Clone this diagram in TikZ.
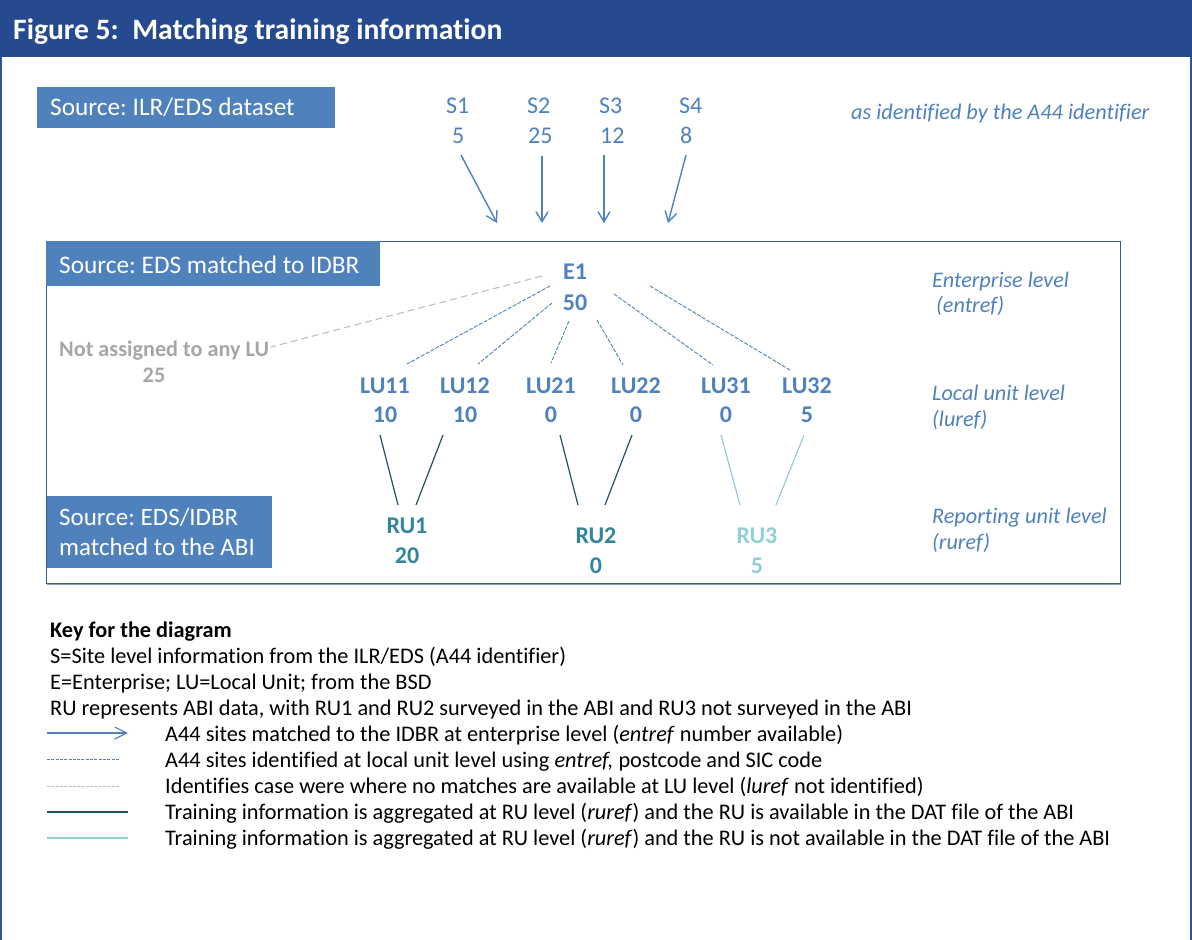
\documentclass[tikz,border=0pt]{standalone}
\usepackage{fontspec}
\setmainfont{Carlito}[Ligatures=NoCommon]
\usetikzlibrary{arrows.meta}
\frenchspacing
\definecolor{titleblue}{RGB}{37,74,143}
\definecolor{boxblue}{RGB}{79,129,189}
\definecolor{txtblue}{RGB}{79,129,189}
\definecolor{greytxt}{RGB}{166,166,166}
\definecolor{greyline}{RGB}{190,190,190}
\definecolor{tealtxt}{RGB}{49,133,156}
\definecolor{lighttxt}{RGB}{146,205,220}
\definecolor{darkteal}{RGB}{30,84,98}
\definecolor{frameblue}{RGB}{56,93,138}
\definecolor{outerblue}{RGB}{47,82,160}
\tikzset{
  fs/.style={font=\fontsize{#1}{#1}\selectfont},
  fsb/.style={font=\fontsize{#1}{#1}\selectfont\bfseries},
  fsi/.style={font=\fontsize{#1}{#1}\selectfont\itshape},
  txt/.style={inner sep=0pt, anchor=base west},
  ctxt/.style={inner sep=0pt, anchor=base},
  srcbox/.style={fill=boxblue, inner sep=0pt, anchor=north west},
  sarrow/.style={draw=txtblue, line width=1.4pt, -{Straight Barb[length=10pt,width=12pt]}},
  bluedash/.style={draw=txtblue, line width=0.9pt, dash pattern=on 4pt off 1.5pt},
  greydash/.style={draw=greyline, line width=1.1pt, dash pattern=on 7pt off 4pt},
  darkline/.style={draw=darkteal, line width=1.2pt},
  lightline/.style={draw=lighttxt, line width=1.2pt},
}
\begin{document}
\begin{tikzpicture}[x=1pt,y=-1pt]
\useasboundingbox (0,0) rectangle (1192,940);
% outer frame and title bar
\draw[outerblue, line width=2pt] (1,0) -- (1,940);
\draw[outerblue, line width=2pt] (1190.5,0) -- (1190.5,940);
\fill[titleblue] (0,0) rectangle (1192,57);
\node[txt, fsb=29.6, text=white] (title) at (13,39.5) {Figure 5:\ \ Matching training information};

% source 1
\node[srcbox, minimum width=298pt, minimum height=41pt] (box1) at (37,87) {};
\node[txt, fs=25.3, text=white] (box1t) at (50,115) {Source: ILR/EDS dataset};

% sites
\foreach \n/\lx/\nx/\v in {1/446/452/5, 2/527/528/25, 3/599/600/12, 4/679/680/8}{
  \node[txt, fs=24, text=txtblue] (s\n) at (\lx,113) {S\n};
  \node[txt, fs=24, text=txtblue] (n\n) at (\nx,143) {\v};
}
\node[txt, fsi=22.3, text=txtblue] (asid) at (851,119) {as identified by the A44 identifier};
\coordinate (a1s) at (461,155); \coordinate (a1e) at (497,223);
\coordinate (a2s) at (542,156); \coordinate (a2e) at (542,223);
\coordinate (a3s) at (604,155); \coordinate (a3e) at (604,223);
\coordinate (a4s) at (686,155); \coordinate (a4e) at (668,223);
\foreach \i in {1,2,3,4}{ \draw[sarrow] (a\i s) -- (a\i e); }

% main frame
\draw[frameblue, line width=1pt] (46,241) rectangle (1120,583);
\draw[frameblue!60, line width=1.2pt] (47,584.2) -- (1121,584.2);
\node[srcbox, minimum width=334pt, minimum height=45pt] (box2) at (46,241) {};
\node[txt, fs=25.3, text=white] (box2t) at (59,273) {Source: EDS matched to IDBR};

% enterprise
\node[ctxt, fsb=24, text=txtblue] (e1) at (575,279) {E1};
\node[ctxt, fsb=24, text=txtblue] (e1v) at (575,310) {50};
\node[txt, fsb=22.2, text=greytxt] (na) at (59,356) {Not assigned to any LU};
\node[ctxt, fsb=22.2, text=greytxt] (nav) at (154,382) {25};

% local units
\foreach \nm/\x/\v in {LU11/385/10, LU12/465/10, LU21/551/0, LU22/636/0, LU31/726/0, LU32/807/5}{
  \node[ctxt, fsb=24, text=txtblue] (\nm) at (\x,393) {\nm};
  \node[ctxt, fsb=24, text=txtblue] (\nm v) at (\x,422) {\v};
}

% dashed connectors E1 -> LU
\coordinate (g0) at (542,276); \coordinate (g1) at (271,347);
\draw[greydash] (g0) -- (g1);
\coordinate (d1s) at (550,286); \coordinate (d1e) at (407,364);
\coordinate (d2s) at (552,303); \coordinate (d2e) at (478,364);
\coordinate (d3s) at (569,321); \coordinate (d3e) at (551,363);
\coordinate (d4s) at (597,320); \coordinate (d4e) at (623,365);
\coordinate (d5s) at (614,294); \coordinate (d5e) at (713,365);
\coordinate (d6s) at (650,286); \coordinate (d6e) at (790,370);
\foreach \i in {1,...,6}{ \draw[bluedash] (d\i s) -- (d\i e); }

% right-hand labels
\node[txt, fsi=22.2, text=txtblue] (lev1) at (932,287) {Enterprise level};
\node[txt, fsi=22.2, text=txtblue] (lev1b) at (936,312) {(entref)};
\node[txt, fsi=22.2, text=txtblue] (lev2) at (932,400) {Local unit level};
\node[txt, fsi=22.2, text=txtblue] (lev2b) at (932,426) {(luref)};
\node[txt, fsi=22.2, text=txtblue] (lev3) at (932,523) {Reporting unit level};
\node[txt, fsi=22.2, text=txtblue] (lev3b) at (932,549) {(ruref)};

% reporting units
\node[srcbox, minimum width=225pt, minimum height=72pt] (box3) at (47,496) {};
\node[txt, fs=25, text=white] (box3t) at (59,525) {Source: EDS/IDBR};
\node[txt, fs=25, text=white] (box3u) at (59,555) {matched to the ABI};
\node[ctxt, fsb=24, text=tealtxt] (ru1) at (407,533) {RU1};
\node[ctxt, fsb=24, text=tealtxt] (ru1v) at (407,563) {20};
\node[ctxt, fsb=24, text=tealtxt] (ru2) at (596,543) {RU2};
\node[ctxt, fsb=24, text=tealtxt] (ru2v) at (596,573) {0};
\node[ctxt, fsb=24, text=lighttxt] (ru3) at (757,543) {RU3};
\node[ctxt, fsb=24, text=lighttxt] (ru3v) at (757,573) {5};

\coordinate (r1s) at (380,435); \coordinate (r1e) at (398,505);
\coordinate (r2s) at (443,435); \coordinate (r2e) at (416,505);
\coordinate (r3s) at (560,435); \coordinate (r3e) at (578,505);
\coordinate (r4s) at (632,435); \coordinate (r4e) at (605,505);
\coordinate (r5s) at (721,435); \coordinate (r5e) at (740,505);
\coordinate (r6s) at (804,435); \coordinate (r6e) at (776,505);
\foreach \i in {1,...,4}{ \draw[darkline] (r\i s) -- (r\i e); }
\foreach \i in {5,6}{ \draw[lightline] (r\i s) -- (r\i e); }

% key
\node[txt, fsb=22.3] (k0) at (50,637) {Key for the diagram};
\node[txt, fs=22.3] (k1) at (50,663) {S=Site level information from the ILR/EDS (A44 identifier)};
\node[txt, fs=22.3] (k2) at (50,689) {E=Enterprise; LU=Local Unit; from the BSD};
\node[txt, fs=22.3] (k3) at (50,715) {RU represents ABI data, with RU1 and RU2 surveyed in the ABI and RU3 not surveyed in the ABI};
\node[txt, fs=22.3] (k4) at (165,741) {A44 sites matched to the IDBR at enterprise level (\textit{entref} number available)};
\node[txt, fs=22.3] (k5) at (165,767) {A44 sites identified at local unit level using \textit{entref,} postcode and SIC code};
\node[txt, fs=22.3] (k6) at (165,793) {Identifies case were where no matches are available at LU level (\textit{luref} not identified)};
\node[txt, fs=22.3] (k7) at (165,819) {Training information is aggregated at RU level (\textit{ruref}) and the RU is available in the DAT file of the ABI};
\node[txt, fs=22.3] (k8) at (165,845) {Training information is aggregated at RU level (\textit{ruref}) and the RU is not available in the DAT file of the ABI};

\coordinate (l1s) at (47,733); \coordinate (l1e) at (128,733);
\coordinate (l2s) at (47,759); \coordinate (l2e) at (119,759);
\coordinate (l3s) at (47,786); \coordinate (l3e) at (119,786);
\coordinate (l4s) at (47,812); \coordinate (l4e) at (128,812);
\coordinate (l5s) at (47,838); \coordinate (l5e) at (128,838);
\draw[draw=txtblue, line width=1.2pt, -{Straight Barb[length=12pt,width=12pt]}] (l1s) -- (l1e);
\draw[draw=txtblue, line width=0.9pt, dash pattern=on 3pt off 1.3pt] (l2s) -- (l2e);
\draw[draw=greyline, line width=0.9pt, dash pattern=on 3pt off 1.3pt] (l3s) -- (l3e);
\draw[draw=darkteal, line width=1.8pt] (l4s) -- (l4e);
\draw[draw=lighttxt, line width=1.8pt] (l5s) -- (l5e);
\end{tikzpicture}
\end{document}
